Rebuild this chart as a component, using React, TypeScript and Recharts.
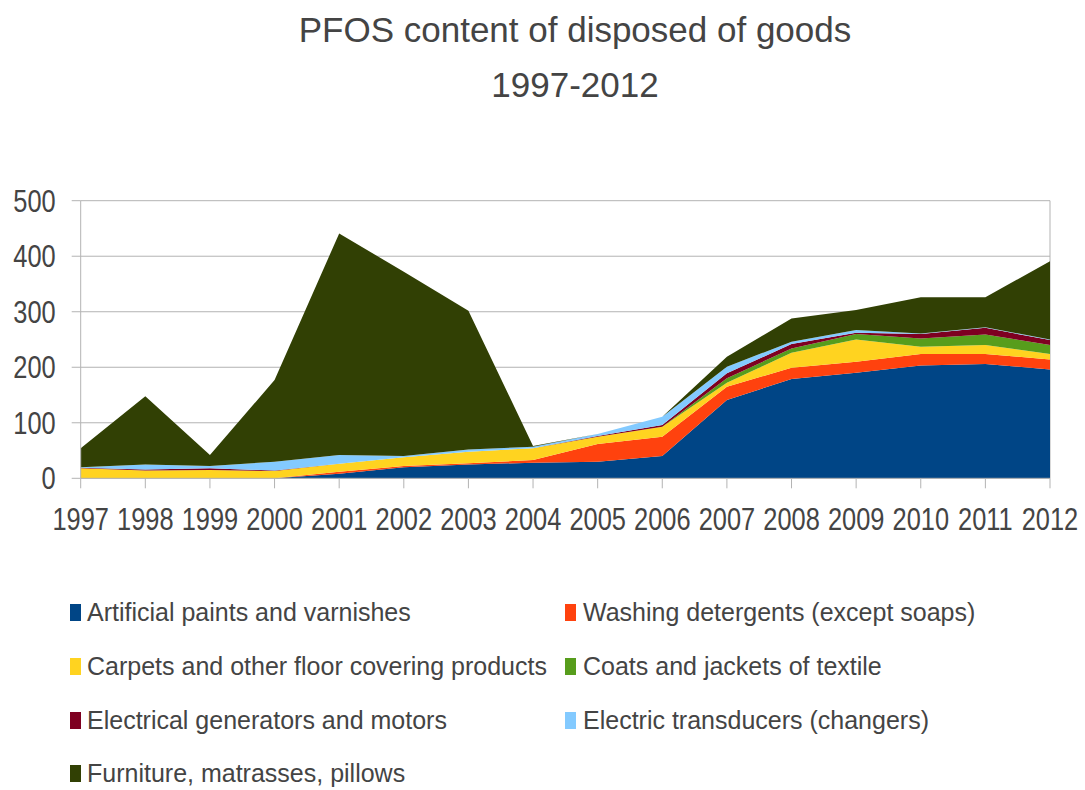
import React from 'react';
import { AreaChart, Area, XAxis, YAxis, CartesianGrid } from 'recharts';

const years = ['1997', '1998', '1999', '2000', '2001', '2002', '2003', '2004',
  '2005', '2006', '2007', '2008', '2009', '2010', '2011', '2012'];

const paints = [0, 0, 0, 0, 8, 20, 25, 28, 30, 40, 141, 179, 190, 203, 206, 196];
const washing = [0, 0, 0, 0, 4, 2, 2, 5, 32, 35, 24, 20, 20, 21, 18, 18];
const carpets = [18, 14, 15, 13, 14, 16, 21, 21, 13, 18, 7, 27, 40, 13, 16, 10];
const coats = [0, 0, 0, 0, 0, 0, 0, 0, 0, 0, 8, 8, 10, 15, 19, 16];
const generators = [1, 2, 3, 1, 0, 0, 0, 0, 1, 3, 9, 8, 2, 8, 12, 9];
const transducers = [1, 9, 4, 16, 16, 2, 4, 3, 4, 15, 12, 4, 5, 1, 1, 1];
const furniture = [34, 123, 20, 147, 399, 332, 250, 1, 0, 0, 18, 42, 36, 65, 54, 141];

const yTicks = [0, 100, 200, 300, 400, 500];

const series = [
  { key: 'paints', name: 'Artificial paints and varnishes', color: '#004586' },
  { key: 'washing', name: 'Washing detergents (except soaps)', color: '#ff420e' },
  { key: 'carpets', name: 'Carpets and other floor covering products', color: '#ffd320' },
  { key: 'coats', name: 'Coats and jackets of textile', color: '#579d1c' },
  { key: 'generators', name: 'Electrical generators and motors', color: '#7e0021' },
  { key: 'transducers', name: 'Electric transducers (changers)', color: '#83caff' },
  { key: 'furniture', name: 'Furniture, matrasses, pillows', color: '#314004' },
];

const data = years.map((year, i) => ({
  year,
  paints: paints[i],
  washing: washing[i],
  carpets: carpets[i],
  coats: coats[i],
  generators: generators[i],
  transducers: transducers[i],
  furniture: furniture[i],
}));

const textColor = '#444';
const gridColor = '#b3b3b3';
const fontFamily = '"Liberation Sans", Arial, sans-serif';

// the axis labels in the original are a condensed face, so squeeze them horizontally
function XTick({ x, y, payload }: any) {
  return (
    <text x={0} y={0} dy="0.71em" textAnchor="middle" fontSize={31} fontFamily={fontFamily}
      fill={textColor} transform={`translate(${x},${y}) scale(0.82,1)`}>
      {payload.value}
    </text>
  );
}

function YTick({ x, y, payload }: any) {
  return (
    <text x={0} y={0} dy="0.355em" textAnchor="end" fontSize={31} fontFamily={fontFamily}
      fill={textColor} transform={`translate(${x},${y}) scale(0.82,1)`}>
      {payload.value}
    </text>
  );
}

function ChartLegend() {
  return (
    <>
      {series.map((s, i) => {
        const col = i % 2;
        const row = Math.floor(i / 2);
        return (
          <div key={s.key} style={{
            position: 'absolute',
            left: col === 0 ? 70 : 565,
            top: 597 + row * 53.8,
            height: 30,
            lineHeight: '30px',
            fontSize: 25,
            fontFamily,
            color: textColor,
            whiteSpace: 'nowrap',
          }}>
            <span style={{ position: 'absolute', left: 0, top: 7, width: 11, height: 17, background: s.color }} />
            <span style={{ position: 'absolute', left: col === 0 ? 17 : 18, top: 0 }}>{s.name}</span>
          </div>
        );
      })}
    </>
  );
}

export default function App() {
  return (
    <div style={{ position: 'absolute', left: 0, top: 0, width: 1085, height: 790, background: '#fff' }}>
      <AreaChart width={1085} height={570} data={data}
        margin={{ top: 200.7, right: 35, left: 0, bottom: 0 }}>
        <CartesianGrid stroke={gridColor} vertical={true}
          verticalCoordinatesGenerator={({ offset }: any) => [offset.left + offset.width]} />
        <XAxis dataKey="year" interval={0} height={91.7} tickSize={10} tickMargin={20}
          stroke={gridColor} tick={<XTick />} />
        <YAxis domain={[0, 500]} ticks={yTicks} width={80.7} tickSize={9} tickMargin={16}
          stroke={gridColor} tick={<YTick />} />
        {series.map((s) => (
          <Area key={s.key} type="linear" dataKey={s.key} name={s.name} stackId="1"
            stroke="none" fill={s.color} fillOpacity={1} dot={false} activeDot={false}
            isAnimationActive={false} />
        ))}
      </AreaChart>
      <div style={{
        position: 'absolute', left: 175, top: 2, width: 800, textAlign: 'center',
        fontSize: 35, lineHeight: '55px', color: textColor, fontFamily,
      }}>
        <div>PFOS content of disposed of goods</div>
        <div>1997-2012</div>
      </div>
      <ChartLegend />
    </div>
  );
}
